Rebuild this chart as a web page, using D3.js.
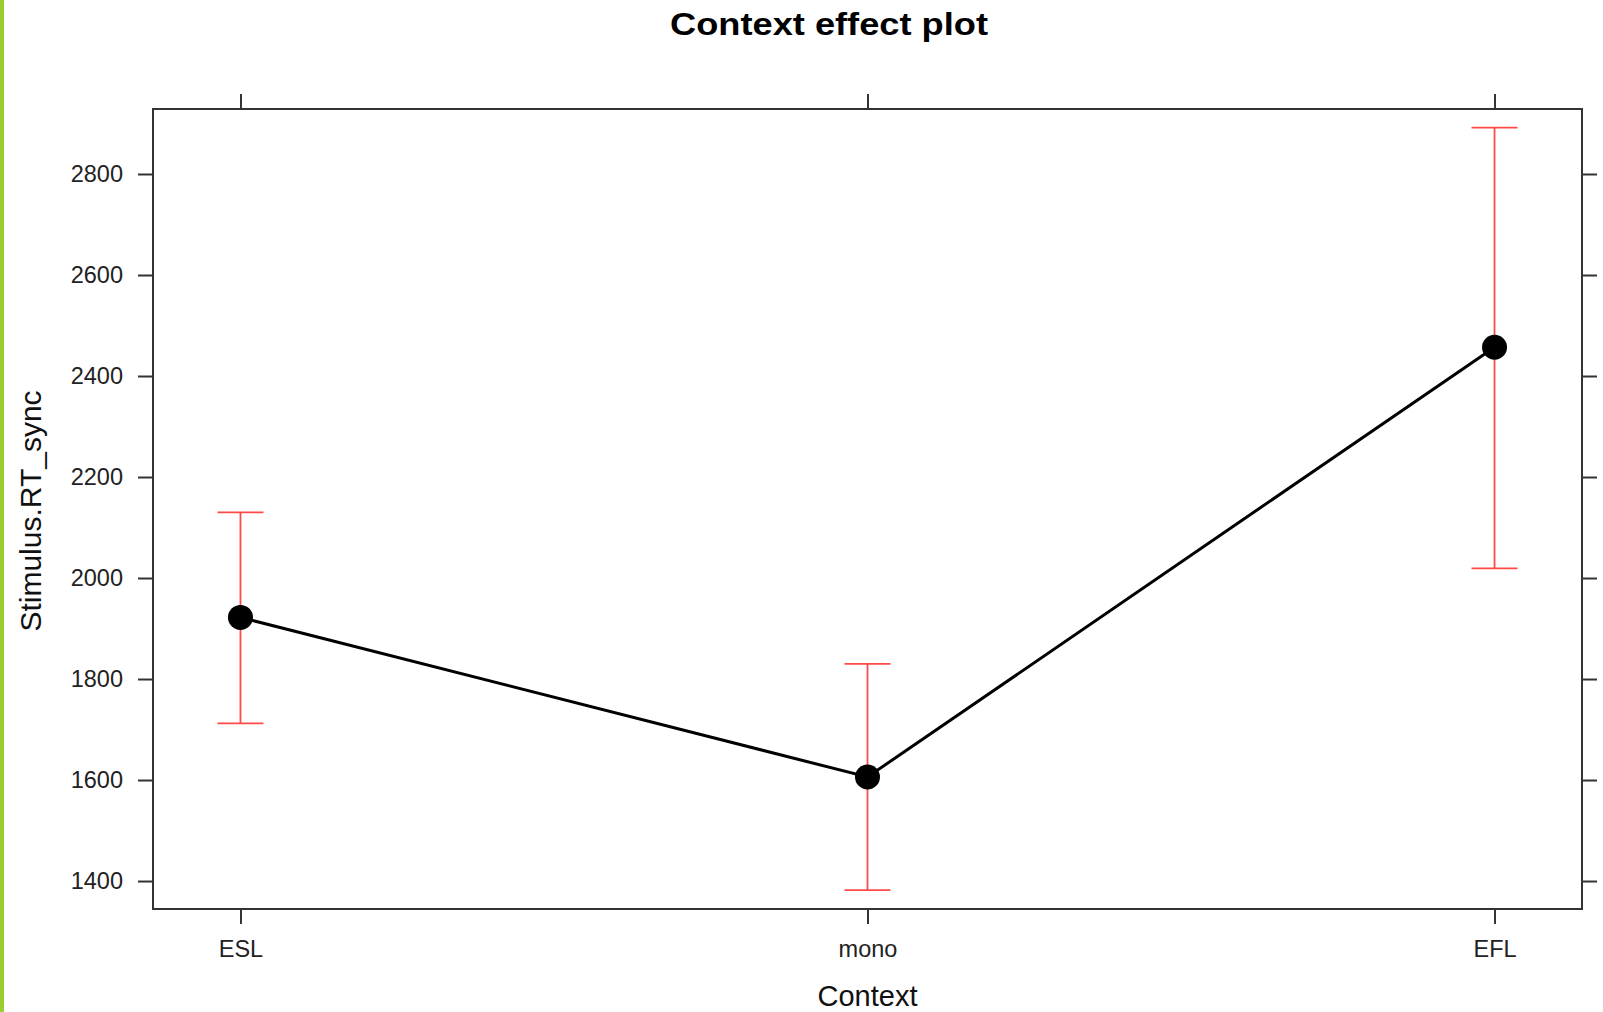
<!DOCTYPE html>
<html>
<head>
<meta charset="utf-8">
<script src="https://cdn.jsdelivr.net/npm/d3@7"></script>
<style>
  html, body { margin: 0; padding: 0; background: #fff; }
  svg { display: block; }
</style>
</head>
<body>
<svg id="chart" width="1603" height="1012"></svg>
<script>
// ---- data ----
const categories = ["ESL", "mono", "EFL"];
const fitValues  = [1922, 1606, 2457];
const lowerValues = [1712, 1382, 2019];
const upperValues = [2130, 1830, 2892];
const yTickValues = [1400, 1600, 1800, 2000, 2200, 2400, 2600, 2800];
const titleText = "Context effect plot";
const xLabelText = "Context";
const yLabelText = "Stimulus.RT_sync";

// ---- layout ----
const W = 1603, H = 1012;
const plot = { left: 153, right: 1582, top: 109, bottom: 909 };
const font = "'Liberation Sans', Arial, Helvetica, sans-serif";

const svg = d3.select("#chart");

// green left edge
svg.append("rect").attr("x", 0).attr("y", 0).attr("width", 4).attr("height", H).attr("fill", "#9acd32");

const x = d3.scaleLinear().domain([-0.1395, 2.1395]).range([plot.left, plot.right]);
const y = d3.scaleLinear().domain([1344.6, 2928.7]).range([plot.bottom, plot.top]);
const xi = categories.map((c, i) => i);

const axisColor = "#333";
const tickLen = 15;

// axes
const gL = svg.append("g").attr("transform", `translate(${plot.left},0)`)
  .call(d3.axisLeft(y).tickValues(yTickValues).tickSize(tickLen).tickPadding(15).tickFormat(d3.format("d")));
const gR = svg.append("g").attr("transform", `translate(${plot.right},0)`)
  .call(d3.axisRight(y).tickValues(yTickValues).tickSize(tickLen).tickFormat(""));
const gB = svg.append("g").attr("transform", `translate(0,${plot.bottom})`)
  .call(d3.axisBottom(x).tickValues(xi).tickSize(tickLen).tickPadding(16).tickFormat(i => categories[i]));
const gT = svg.append("g").attr("transform", `translate(0,${plot.top})`)
  .call(d3.axisTop(x).tickValues(xi).tickSize(tickLen).tickFormat(""));

[gL, gR, gB, gT].forEach(g => {
  g.select(".domain").remove();
  g.selectAll(".tick line").attr("stroke", axisColor).attr("stroke-width", 2);
  g.selectAll(".tick text").attr("fill", "#222").style("font-family", font).style("font-size", "23.5px");
});
gB.selectAll(".tick text").attr("dy", "0.71em");

// frame
svg.append("rect")
  .attr("x", plot.left).attr("y", plot.top)
  .attr("width", plot.right - plot.left).attr("height", plot.bottom - plot.top)
  .attr("fill", "none").attr("stroke", axisColor).attr("stroke-width", 2);

// error bars
const red = "#ff4a4a";
const capHalf = 23;
const eb = svg.append("g");
xi.forEach(i => {
  eb.append("line").attr("x1", x(i)).attr("x2", x(i))
    .attr("y1", y(lowerValues[i])).attr("y2", y(upperValues[i]))
    .attr("stroke", red).attr("stroke-width", 1.8);
  [lowerValues[i], upperValues[i]].forEach(v => {
    eb.append("line").attr("x1", x(i) - capHalf).attr("x2", x(i) + capHalf)
      .attr("y1", y(v)).attr("y2", y(v))
      .attr("stroke", red).attr("stroke-width", 1.8);
  });
});

// line
const line = d3.line().x(i => x(i)).y(i => y(fitValues[i]));
svg.append("path").datum(xi).attr("d", line)
  .attr("fill", "none").attr("stroke", "#000").attr("stroke-width", 3);

// points
svg.append("g").selectAll("circle").data(xi).join("circle")
  .attr("cx", i => x(i)).attr("cy", i => y(fitValues[i])).attr("r", 12.5)
  .attr("fill", "#000");

// title
svg.append("text").attr("x", 829).attr("y", 35)
  .attr("text-anchor", "middle")
  .style("font-family", font).style("font-weight", "bold").style("font-size", "32px")
  .attr("textLength", 318).attr("lengthAdjust", "spacingAndGlyphs")
  .attr("fill", "#000").text(titleText);

// x label
svg.append("text").attr("x", (plot.left + plot.right) / 2).attr("y", 1006)
  .attr("text-anchor", "middle")
  .style("font-family", font).style("font-size", "29px")
  .attr("fill", "#111").text(xLabelText);

// y label
svg.append("text")
  .attr("transform", `translate(41,${(plot.top + plot.bottom) / 2 + 2}) rotate(-90)`)
  .attr("text-anchor", "middle")
  .style("font-family", font).style("font-size", "30px")
  .attr("fill", "#111").text(yLabelText);
</script>
</body>
</html>
